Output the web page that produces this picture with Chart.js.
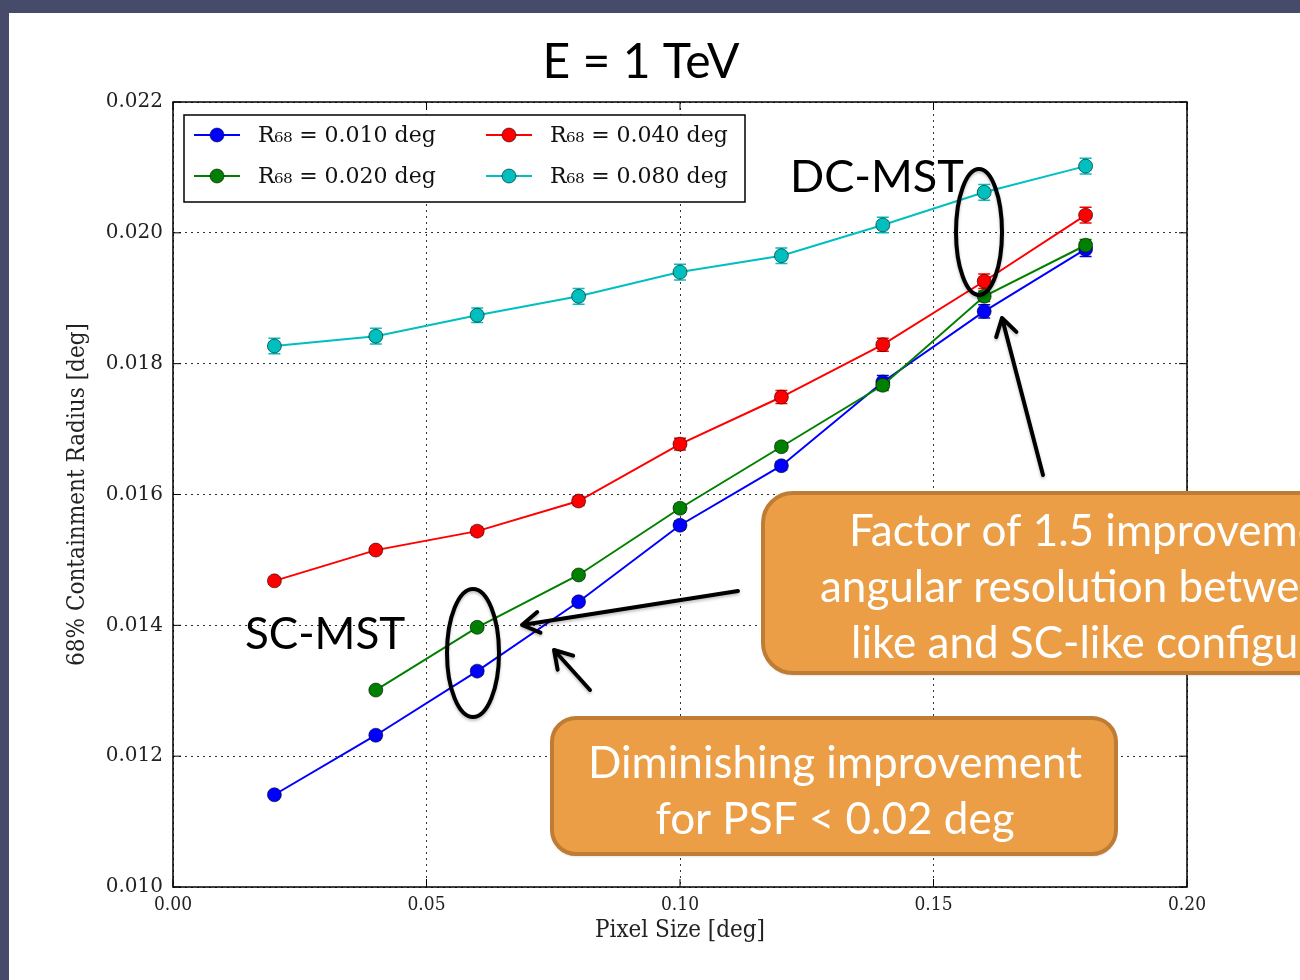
<!DOCTYPE html>
<html>
<head>
<meta charset="utf-8">
<title>68% containment radius vs pixel size</title>
<script src="https://cdn.jsdelivr.net/npm/chart.js@4.4.1/dist/chart.umd.min.js"></script>
<style>
  html, body { margin: 0; padding: 0; }
  body { width: 1300px; height: 980px; background: #474b6a; position: relative; overflow: hidden; }
  .slide { position: absolute; left: 9px; top: 13px; right: 0; bottom: 0; background: #fff; }
  #graph_zone { position: absolute; left: 0; top: 0; }
</style>
</head>
<body>
<div class="slide"></div>
<canvas id="graph_zone" width="1300" height="980"></canvas>
<script>
// pixel sizes [deg] and the PSF of each curve [deg]
let pixelSizes = [0.02, 0.04, 0.06, 0.08, 0.10, 0.12, 0.14, 0.16, 0.18];
let psfRadii = [0.010, 0.020, 0.040, 0.080];

// 68% containment radius [deg] per PSF
let r68_010 = [0.01141, 0.01232, 0.01330, 0.01436, 0.01553, 0.01644, 0.01772, 0.01880, 0.01975];
let r68_020 = [null, 0.01301, 0.01397, 0.01477, 0.01579, 0.01673, 0.01767, 0.01903, 0.01981];
let r68_040 = [0.01468, 0.01515, 0.01544, 0.01590, 0.01677, 0.01749, 0.01829, 0.01926, 0.02027];
let r68_080 = [0.01827, 0.01842, 0.01874, 0.01903, 0.01940, 0.01965, 0.02012, 0.02062, 0.02102];

// errors on the radius
let err_010 = [0.00004, 0.00004, 0.00005, 0.00005, 0.00006, 0.00006, 0.00010, 0.00010, 0.00011];
let err_020 = [null, 0.00004, 0.00005, 0.00005, 0.00006, 0.00006, 0.00008, 0.00008, 0.00009];
let err_040 = [0.00005, 0.00005, 0.00006, 0.00007, 0.00009, 0.00010, 0.00010, 0.00011, 0.00012];
let err_080 = [0.00012, 0.00012, 0.00011, 0.00012, 0.00012, 0.00012, 0.00012, 0.00012, 0.00012];

let xTickStep = 0.05;
let yTickStep = 0.002;

let seriesValues = [r68_010, r68_020, r68_040, r68_080];
let seriesErrors = [err_010, err_020, err_040, err_080];
let seriesColors = ['#0000ff', '#008000', '#ff0000', '#00bfbf'];

let serif = "'DejaVu Serif', serif";
let serifNarrow = "'DejaVu Serif Condensed', 'DejaVu Serif', serif";
let slideFont = "Lato, 'Open Sans', sans-serif";

let datasets = psfRadii.map((r, i) => ({
    label: 'R\u2086\u2088 = ' + r.toFixed(3) + ' deg',
    data: pixelSizes.map((x, j) => ({ x: x, y: seriesValues[i][j] })),
    errors: seriesErrors[i],
    borderColor: seriesColors[i],
    backgroundColor: seriesColors[i],
    borderWidth: 2,
    pointRadius: 7,
    pointHoverRadius: 7,
    pointBorderWidth: 1,
    pointBorderColor: 'rgba(0,0,0,0.55)',
    pointBackgroundColor: seriesColors[i],
    tension: 0,
    order: psfRadii.length - i
}));

// matplotlib style error bars with caps
const errorBars = {
    id: 'errorBars',
    beforeDatasetsDraw(chart) {
        let ctx = chart.ctx, sx = chart.scales.x, sy = chart.scales.y;
        chart.data.datasets.forEach((ds) => {
            ctx.save();
            ctx.strokeStyle = ds.borderColor;
            ctx.lineWidth = 1.5;
            ds.data.forEach((p, j) => {
                if (p.y == null) return;
                let px = sx.getPixelForValue(p.x);
                let top = sy.getPixelForValue(p.y + ds.errors[j]);
                let bot = sy.getPixelForValue(p.y - ds.errors[j]);
                ctx.beginPath();
                ctx.moveTo(px, top); ctx.lineTo(px, bot);
                ctx.moveTo(px - 6, top); ctx.lineTo(px + 6, top);
                ctx.moveTo(px - 6, bot); ctx.lineTo(px + 6, bot);
                ctx.stroke();
            });
            ctx.restore();
        });
    }
};

// axes frame, inward ticks and the two-column legend
const frameAndLegend = {
    id: 'frameAndLegend',
    afterDatasetsDraw(chart) {
        let ctx = chart.ctx, a = chart.chartArea;
        let sx = chart.scales.x, sy = chart.scales.y;
        ctx.save();
        ctx.strokeStyle = '#000';
        ctx.lineWidth = 1.5;
        ctx.strokeRect(a.left, a.top, a.right - a.left, a.bottom - a.top);
        ctx.lineWidth = 1;
        ctx.beginPath();
        sx.ticks.forEach(t => {
            let px = sx.getPixelForValue(t.value);
            ctx.moveTo(px, a.bottom); ctx.lineTo(px, a.bottom - 8);
            ctx.moveTo(px, a.top); ctx.lineTo(px, a.top + 8);
        });
        sy.ticks.forEach(t => {
            let py = sy.getPixelForValue(t.value);
            ctx.moveTo(a.left, py); ctx.lineTo(a.left + 8, py);
            ctx.moveTo(a.right, py); ctx.lineTo(a.right - 8, py);
        });
        ctx.stroke();

        // legend box
        let lx = a.left + 11, ly = a.top + 13, lw = 561, lh = 87;
        ctx.fillStyle = '#fff';
        ctx.fillRect(lx, ly, lw, lh);
        ctx.lineWidth = 1.5;
        ctx.strokeRect(lx, ly, lw, lh);
        ctx.font = '22px ' + serif;
        ctx.textBaseline = 'middle';
        chart.data.datasets.forEach((ds, i) => {
            let col = Math.floor(i / 2), row = i % 2;
            let x0 = lx + 10 + col * 292;
            let y0 = ly + 20 + row * 41;
            ctx.strokeStyle = ds.borderColor;
            ctx.lineWidth = 2;
            ctx.beginPath();
            ctx.moveTo(x0, y0); ctx.lineTo(x0 + 46, y0);
            ctx.stroke();
            ctx.beginPath();
            ctx.arc(x0 + 23, y0, 7, 0, Math.PI * 2);
            ctx.fillStyle = ds.pointBackgroundColor;
            ctx.fill();
            ctx.strokeStyle = ds.pointBorderColor;
            ctx.lineWidth = 1;
            ctx.stroke();
            ctx.fillStyle = '#111';
            ctx.fillText(ds.label, x0 + 64, y0 + 1);
        });
        ctx.restore();
    }
};

function roundBox(ctx, x, y, w, h, r) {
    ctx.beginPath();
    ctx.moveTo(x + r, y);
    ctx.lineTo(x + w - r, y);
    ctx.arcTo(x + w, y, x + w, y + r, r);
    ctx.lineTo(x + w, y + h - r);
    ctx.arcTo(x + w, y + h, x + w - r, y + h, r);
    ctx.lineTo(x + r, y + h);
    ctx.arcTo(x, y + h, x, y + h - r, r);
    ctx.lineTo(x, y + r);
    ctx.arcTo(x, y, x + r, y, r);
    ctx.closePath();
}

function arrow(ctx, x1, y1, x2, y2) {
    let ang = Math.atan2(y2 - y1, x2 - x1);
    ctx.beginPath();
    ctx.moveTo(x1, y1); ctx.lineTo(x2, y2);
    ctx.moveTo(x2 - 20 * Math.cos(ang - 0.55), y2 - 20 * Math.sin(ang - 0.55));
    ctx.lineTo(x2, y2);
    ctx.lineTo(x2 - 20 * Math.cos(ang + 0.55), y2 - 20 * Math.sin(ang + 0.55));
    ctx.stroke();
}

// slide callouts: title, labels, ellipses, arrows and text boxes
const callouts = {
    id: 'callouts',
    afterDraw(chart) {
        let ctx = chart.ctx;
        ctx.save();
        ctx.fillStyle = '#000';
        ctx.textBaseline = 'alphabetic';
        ctx.font = '48px ' + slideFont;
        ctx.textAlign = 'center';
        ctx.fillText('E = 1 TeV', 641, 78);
        ctx.textAlign = 'left';
        ctx.font = '45px ' + slideFont;
        ctx.fillText('DC-MST', 790, 192);
        ctx.font = '44px ' + slideFont;
        ctx.fillText('SC-MST', 245, 649);

        ctx.strokeStyle = '#000';
        ctx.lineWidth = 4;
        ctx.lineCap = 'round';
        ctx.lineJoin = 'round';
        ctx.shadowColor = 'rgba(0,0,0,0.25)';
        ctx.shadowBlur = 3;
        ctx.shadowOffsetY = 2;
        ctx.beginPath();
        ctx.ellipse(979, 232, 23, 63, 0, 0, Math.PI * 2);
        ctx.stroke();
        ctx.beginPath();
        ctx.ellipse(473, 653, 26, 64, 0, 0, Math.PI * 2);
        ctx.stroke();
        arrow(ctx, 1043, 475, 1002, 318);
        arrow(ctx, 738, 591, 522, 625);
        arrow(ctx, 590, 690, 554, 650);

        ctx.shadowColor = 'rgba(0,0,0,0.2)';
        ctx.fillStyle = '#eb9e45';
        ctx.strokeStyle = '#bf7c34';
        ctx.lineWidth = 4;
        roundBox(ctx, 763, 493, 620, 180, 30);
        ctx.fill();
        ctx.shadowColor = 'transparent';
        ctx.stroke();
        ctx.shadowColor = 'rgba(0,0,0,0.2)';
        roundBox(ctx, 552, 718, 564, 136, 24);
        ctx.fill();
        ctx.shadowColor = 'transparent';
        ctx.stroke();

        ctx.fillStyle = '#fff';
        ctx.font = '44px ' + slideFont;
        ctx.fillText('Factor of 1.5 improvement in', 849, 546);
        ctx.fillText('angular resolution between DC-', 820, 602);
        ctx.fillText('like and SC-like configurations', 851, 658);
        ctx.textAlign = 'center';
        ctx.fillText('Diminishing improvement', 835, 778);
        ctx.fillText('for PSF < 0.02 deg', 835, 834);
        ctx.restore();
    }
};

let graph = document.querySelector('#graph_zone').getContext('2d');

let myChart = new Chart(graph, {
    type: 'line',
    data: { datasets: datasets },
    plugins: [errorBars, frameAndLegend, callouts],
    options: {
        responsive: false,
        animation: false,
        layout: { padding: { left: 53, top: 102, right: 113, bottom: 33 } },
        plugins: {
            legend: { display: false },
            tooltip: { enabled: false }
        },
        scales: {
            x: {
                type: 'linear',
                min: 0,
                max: 0.2,
                afterFit: (s) => { s.height = 60; },
                ticks: {
                    stepSize: xTickStep,
                    maxRotation: 0,
                    padding: 7,
                    color: '#222',
                    font: { family: serifNarrow, size: 19 },
                    callback: (v) => v.toFixed(2)
                },
                grid: { color: '#333', lineWidth: 1, drawTicks: false },
                border: { display: false, dash: [2, 4] },
                title: {
                    display: true,
                    text: 'Pixel Size [deg]',
                    color: '#222',
                    font: { family: serifNarrow, size: 24 },
                    padding: { top: 0, bottom: 2 }
                }
            },
            y: {
                type: 'linear',
                min: 0.010,
                max: 0.022,
                afterFit: (s) => { s.width = 120; },
                ticks: {
                    stepSize: yTickStep,
                    padding: 10,
                    color: '#222',
                    font: { family: serif, size: 20 },
                    callback: (v) => v.toFixed(3)
                },
                grid: { color: '#333', lineWidth: 1, drawTicks: false },
                border: { display: false, dash: [2, 4] },
                title: {
                    display: true,
                    text: '68% Containment Radius [deg]',
                    color: '#222',
                    font: { family: serifNarrow, size: 24 },
                    padding: { top: 10, bottom: 0 }
                }
            }
        }
    }
});
</script>
</body>
</html>
